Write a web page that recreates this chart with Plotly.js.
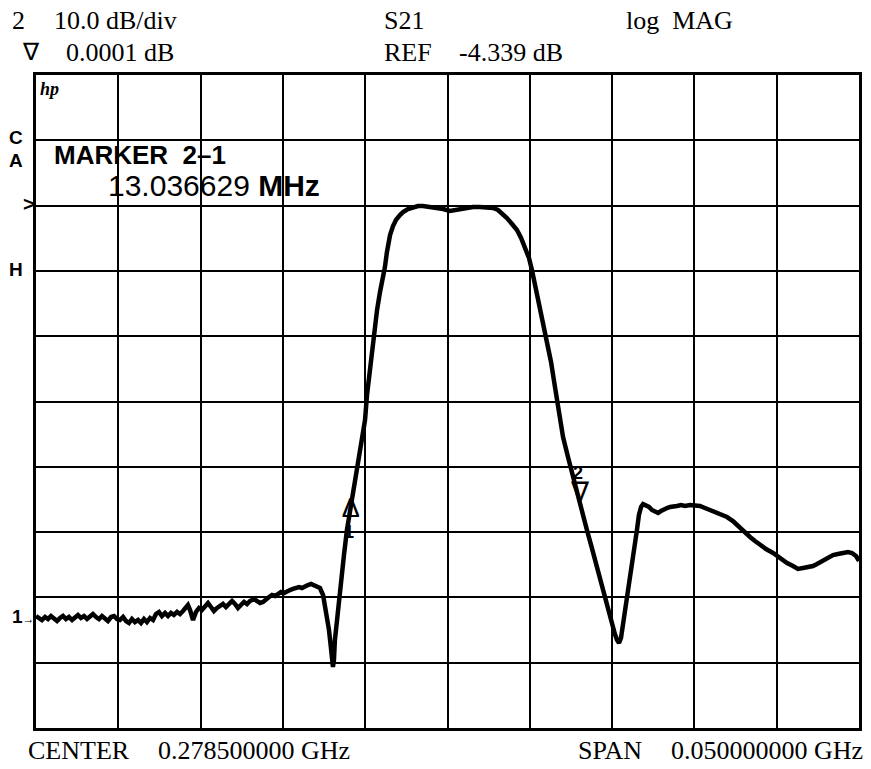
<!DOCTYPE html>
<html>
<head>
<meta charset="utf-8">
<script src="https://cdn.plot.ly/plotly-3.0.1.min.js"></script>
<style>
html,body{margin:0;padding:0;background:#fff;}
#chart{width:871px;height:769px;}
</style>
</head>
<body>
<div id="chart"></div>
<script>
// Frequency axis (MHz): CENTER 278.5 MHz, SPAN 50 MHz
const freqMHz = [
253.50,253.68,253.86,254.05,254.23,254.41,254.59,254.78,254.96,255.14,
255.32,255.50,255.69,255.87,256.05,256.23,256.42,256.60,256.78,256.96,
257.15,257.33,257.51,257.69,257.87,258.06,258.24,258.42,258.60,258.79,
258.97,259.15,259.33,259.51,259.70,259.88,260.06,260.24,260.43,260.61,
260.79,260.97,261.15,261.34,261.52,261.70,261.88,262.07,262.25,262.43,
262.61,262.73,262.86,263.04,263.22,263.40,263.58,263.77,263.95,264.13,
264.31,264.50,264.68,264.86,265.04,265.23,265.41,265.59,265.77,265.95,
266.14,266.32,266.50,266.74,266.93,267.11,267.29,267.47,267.66,267.84,
268.02,268.20,268.38,268.57,268.75,268.93,269.11,269.30,269.48,269.66,
269.84,270.02,270.21,270.39,270.57,270.75,270.94,271.06,271.18,271.30,
271.42,271.48,271.54,271.60,271.66,271.79,271.91,272.03,272.21,272.39,
272.58,272.70,272.88,273.06,273.24,273.37,273.49,273.61,273.79,273.97,
274.22,274.40,274.58,274.70,274.82,275.01,275.19,275.37,275.61,275.80,
276.10,276.40,276.71,277.01,277.44,277.86,278.23,278.65,278.96,279.26,
279.68,280.05,280.47,280.90,281.26,281.57,281.87,282.11,282.42,282.72,
282.97,283.21,283.45,283.63,283.82,284.00,284.24,284.54,284.79,285.03,
285.27,285.52,285.82,286.12,286.37,286.55,286.73,286.97,287.22,287.46,
287.76,288.01,288.25,288.43,288.55,288.67,288.80,288.92,289.04,289.16,
289.28,289.40,289.59,289.77,289.89,290.01,290.13,290.26,290.38,290.56,
290.74,290.92,291.11,291.29,291.47,291.65,291.84,292.02,292.20,292.44,
292.69,292.93,293.23,293.54,293.84,294.14,294.45,294.87,295.18,295.48,
295.84,296.15,296.45,296.88,297.18,297.49,297.85,298.28,298.70,299.13,
299.49,299.79,300.10,300.40,300.70,300.95,301.25,301.55,301.92,302.22,
302.53,302.83,303.07,303.32,303.50
];

// S21 log MAG (dB)
const s21dB = [
-67.19,-67.49,-67.80,-67.34,-67.65,-67.19,-67.49,-67.95,-67.49,-67.19,
-67.65,-67.34,-67.80,-67.34,-67.03,-67.49,-67.19,-67.65,-67.34,-66.88,
-67.34,-67.65,-67.19,-67.49,-67.95,-67.34,-67.19,-67.65,-67.80,-67.34,
-67.95,-68.26,-67.65,-68.11,-67.80,-68.26,-67.65,-68.11,-67.49,-67.80,
-66.88,-66.57,-67.19,-66.73,-67.19,-66.73,-67.03,-66.57,-66.88,-66.42,
-65.81,-65.50,-66.27,-67.80,-66.57,-65.96,-66.27,-65.66,-65.20,-65.81,
-66.42,-65.96,-65.66,-65.35,-65.81,-65.20,-64.89,-65.35,-65.96,-65.50,
-65.04,-65.35,-64.89,-64.58,-64.89,-65.20,-65.04,-64.58,-64.28,-63.97,
-64.12,-63.82,-63.51,-63.67,-63.36,-63.21,-63.05,-62.90,-62.75,-62.90,
-62.59,-62.44,-62.29,-62.44,-62.59,-62.90,-63.97,-65.50,-67.34,-69.33,
-72.09,-73.93,-75.00,-73.93,-70.86,-67.80,-64.43,-61.37,-57.85,-54.02,
-50.95,-48.96,-46.36,-43.76,-40.85,-39.01,-37.17,-33.34,-29.51,-24.92,
-20.33,-17.57,-15.43,-13.74,-11.45,-8.84,-7.46,-6.54,-5.78,-5.32,
-4.86,-4.55,-4.40,-4.40,-4.55,-4.71,-4.86,-5.17,-5.01,-4.86,
-4.71,-4.55,-4.55,-4.55,-4.71,-5.01,-5.63,-6.24,-7.16,-8.08,
-9.30,-10.68,-12.36,-14.20,-16.50,-18.79,-21.55,-24.92,-28.29,-32.12,
-35.64,-39.78,-42.84,-45.90,-48.35,-50.19,-52.18,-54.02,-56.31,-58.61,
-61.67,-63.97,-66.27,-67.80,-68.87,-69.95,-70.86,-71.32,-70.56,-68.57,
-66.57,-64.28,-61.67,-58.92,-56.62,-54.02,-51.72,-50.49,-50.04,-50.19,
-50.49,-50.95,-51.26,-51.41,-51.11,-50.80,-50.65,-50.49,-50.49,-50.34,
-50.19,-50.34,-50.19,-50.19,-50.34,-50.65,-50.95,-51.26,-51.56,-52.03,
-52.64,-53.40,-54.17,-55.09,-55.70,-56.31,-56.93,-57.54,-58.31,-59.07,
-59.53,-59.99,-59.84,-59.68,-59.53,-59.22,-58.76,-58.31,-57.85,-57.69,
-57.54,-57.39,-57.54,-58.00,-58.76
];

// Markers (glyph positions)
const markerFreq = [272.62, 286.55];
const markerLevel = [-51.0, -48.6];
const markerGlyph = ['Δ', '∇'];
const markerLabel = ['1', '2'];

const refLevel = -4.339;
const dBperDiv = 10;
const centerMHz = 278.5;
const spanMHz = 50;

const serif = 'Liberation Serif, Times New Roman, serif';
const sans = 'Liberation Sans, Arial, DejaVu Sans, sans-serif';

const traces = [
  {
    x: freqMHz, y: s21dB, type: 'scatter', mode: 'lines',
    line: {color: '#000', width: 4.5, shape: 'linear'},
    hoverinfo: 'skip', showlegend: false
  },
  {
    x: markerFreq, y: markerLevel, type: 'scatter', mode: 'text',
    text: markerGlyph, textposition: 'middle center',
    textfont: {family: sans, size: 27, color: '#000'},
    hoverinfo: 'skip', showlegend: false
  }
];

const ann = [];
function txt(t, x, y, size, fam, anchor, extra) {
  ann.push(Object.assign({
    text: t, x: x, y: y, xref: 'paper', yref: 'paper', showarrow: false,
    xanchor: anchor || 'left', yanchor: 'middle',
    font: {family: fam, size: size, color: '#000'}
  }, extra || {}));
}
// header
txt('2', -0.031, 1.0827, 26, serif);
txt('10.0 dB/div', 0.0195, 1.0827, 26, serif);
txt('S21', 0.4204, 1.0827, 26, serif);
txt('log  MAG', 0.7145, 1.0827, 26, serif);
txt('∇', -0.019, 1.0352, 24, serif);
txt('0.0001 dB', 0.034, 1.0352, 26, serif);
txt('REF', 0.4204, 1.0352, 26, serif);
txt(refLevel.toFixed(3) + ' dB', 0.5116, 1.0352, 26, serif);
// footer
txt('CENTER', -0.0121, -0.0352, 26, serif);
txt('0.' + (centerMHz*1e6).toFixed(0).padStart(9,'0') + ' GHz', 0.1458, -0.0352, 26, serif);
txt('SPAN', 0.6562, -0.0352, 26, serif);
txt('0.' + (spanMHz*1e6).toFixed(0).padStart(9,'0') + ' GHz', 0.7692, -0.0352, 26, serif);
// inside
txt('<b><i>hp</i></b>', 0.003, 0.9786, 18, serif);
txt('<b>MARKER  2–1</b>', 0.0195, 0.8775, 26, sans, 'left', {height: 26});
txt('13.036629 <b>MHz</b>', 0.0851, 0.8315, 30, sans, 'left', {height: 28});
// left annunciators
txt('<b>C</b>', -0.0355, 0.905, 19, sans);
txt('<b>A</b>', -0.0355, 0.8698, 19, sans);
txt('<b>H</b>', -0.0355, 0.7014, 19, sans);
txt('<b>&gt;</b>', 0.001, 0.8025, 21, sans, 'right');
txt('<b>1</b><span style="font-size:12px">→</span>', 0.001, 0.171, 19, sans, 'right');

// marker labels (placed relative to the marker arrays)
for (let i = 0; i < markerFreq.length; i++) {
  ann.push({
    text: '<b>' + markerLabel[i] + '</b>', x: markerFreq[i], y: markerLevel[i],
    xref: 'x', yref: 'y', showarrow: false, xanchor: 'center', yanchor: 'middle',
    yshift: i === 0 ? -22 : 22, xshift: -2,
    font: {family: sans, size: 18, color: '#000'}, height: 14
  });
}

const layout = {
  width: 871, height: 769,
  margin: {l: 36, r: 12, t: 75, b: 41, pad: 0},
  paper_bgcolor: '#fff', plot_bgcolor: '#fff',
  showlegend: false,
  xaxis: {
    range: [centerMHz - spanMHz/2, centerMHz + spanMHz/2],
    tick0: centerMHz - spanMHz/2, dtick: spanMHz/10,
    showticklabels: false, ticks: '',
    showgrid: true, gridcolor: '#000', gridwidth: 2,
    zeroline: false, showline: true, mirror: true, linecolor: '#000', linewidth: 3,
    fixedrange: true
  },
  yaxis: {
    range: [refLevel - 8*dBperDiv, refLevel + 2*dBperDiv],
    tick0: refLevel, dtick: dBperDiv,
    showticklabels: false, ticks: '',
    showgrid: true, gridcolor: '#000', gridwidth: 2,
    zeroline: false, showline: true, mirror: true, linecolor: '#000', linewidth: 3,
    fixedrange: true
  },
  annotations: ann
};

Plotly.newPlot('chart', traces, layout, {displayModeBar: false, staticPlot: true});
</script>
</body>
</html>
